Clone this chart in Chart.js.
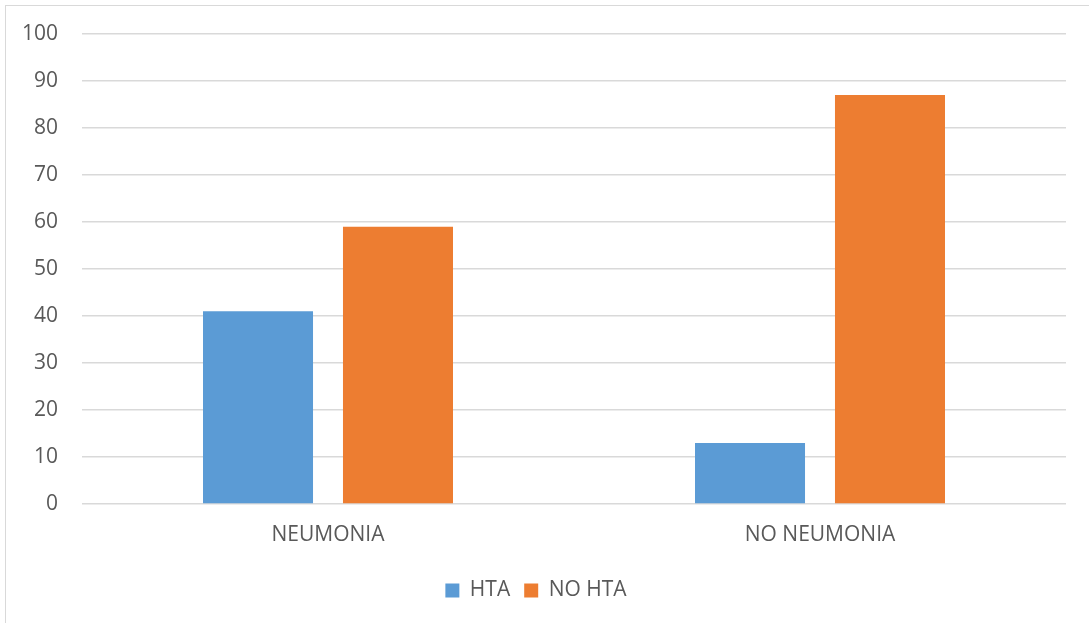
<!DOCTYPE html>
<html>
<head>
<meta charset="utf-8">
<script src="https://cdn.jsdelivr.net/npm/chart.js@4"></script>
<style>
  html, body { margin: 0; padding: 0; background: #fff; overflow: hidden; }
  #frame {
    position: absolute; left: 5px; top: 5px;
    width: 1090px; height: 620px;
    border: 1px solid #d9d9d9;
  }
</style>
</head>
<body>
<div id="frame"><canvas id="chart"></canvas></div>
<script>
const categories = ['NEUMONIA', 'NO NEUMONIA'];
const htaValues = [41, 13];
const noHtaValues = [59, 87];
const yTicks = [0, 10, 20, 30, 40, 50, 60, 70, 80, 90, 100];

const textColor = '#595959';
const gridColor = '#d9d9d9';
const font = { family: "'Open Sans', 'Liberation Sans', sans-serif", size: 21 };

const data = {
    labels: categories,
    datasets: [{
        label: 'HTA',
        data: htaValues,
        backgroundColor: '#5b9bd5'
    }, {
        label: 'NO HTA',
        data: noHtaValues,
        backgroundColor: '#ed7d31'
    }]
};

const config = {
    type: 'bar',
    data: data,
    options: {
        responsive: true,
        maintainAspectRatio: false,
        animation: false,
        categoryPercentage: 0.569,
        barPercentage: 0.786,
        layout: { padding: { left: 0, right: 30, top: 28, bottom: 15 } },
        plugins: {
            tooltip: { enabled: false },
            legend: {
                position: 'bottom',
                labels: {
                    color: textColor,
                    font: font,
                    boxWidth: 14,
                    boxHeight: 14,
                    padding: 14
                }
            }
        },
        scales: {
            x: {
                grid: { display: false, drawTicks: false },
                border: { display: false },
                ticks: { color: textColor, font: font, padding: 18 },
                afterFit: s => { s.height = 62; }
            },
            y: {
                min: 0,
                max: 100,
                afterBuildTicks: s => { s.ticks = yTicks.map(v => ({ value: v })); },
                grid: { color: gridColor, lineWidth: 1.5, drawTicks: false },
                border: { display: false },
                ticks: { color: textColor, font: font, padding: 24 },
                // fixed axis width; drop the label padding so the plot top follows layout.padding
                afterFit: s => {
                    s.width = 76;
                    s.paddingTop = 0;
                    s.paddingBottom = 0;
                }
            }
        }
    }
};

window.addEventListener('load', () => {
    new Chart(document.getElementById('chart'), config);
});
</script>
</body>
</html>
